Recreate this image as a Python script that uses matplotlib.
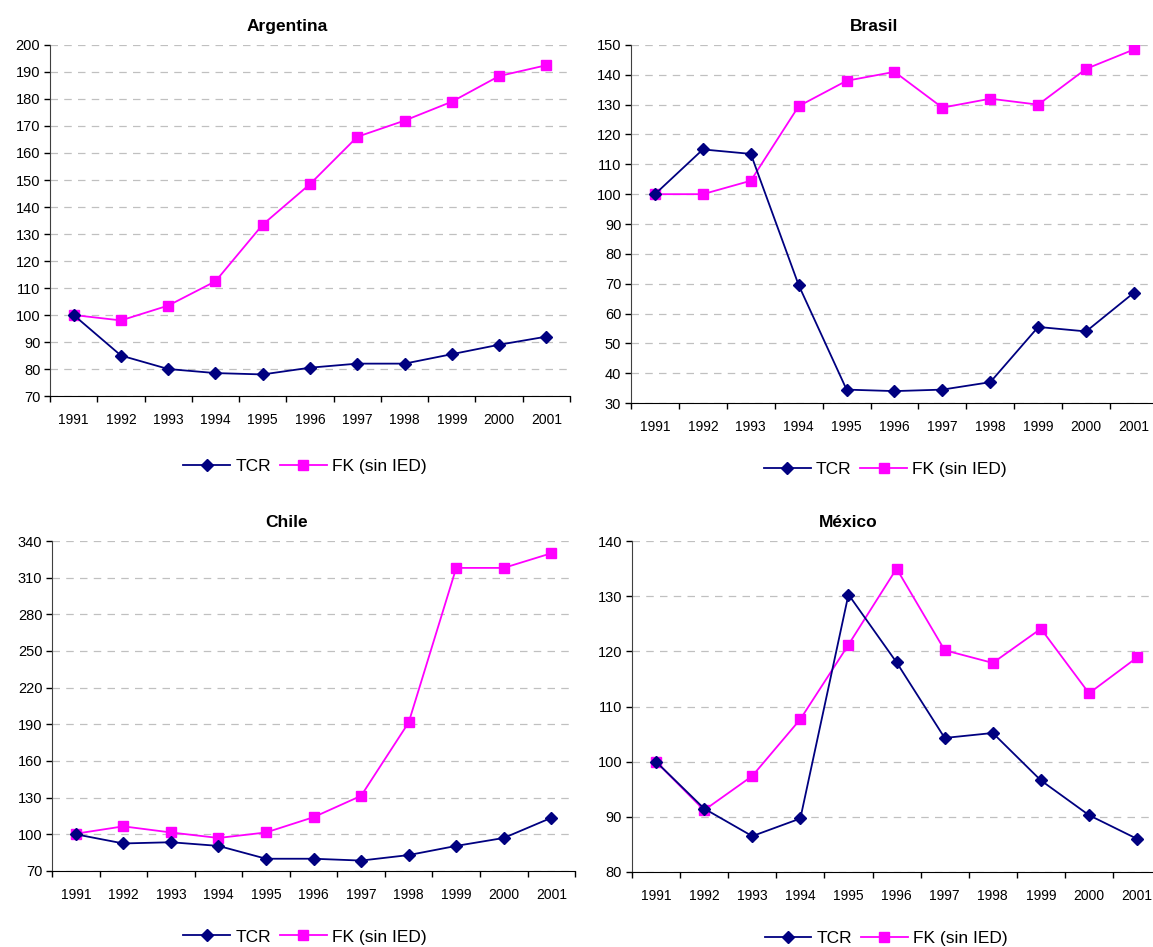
"""TCR vs FK (sin IED), 1991-2001, cuatro paneles por país."""

import matplotlib
matplotlib.use("Agg")
from matplotlib import pyplot as plt
from matplotlib.ticker import FixedLocator

plt.rcParams["font.family"] = ["Liberation Sans", "DejaVu Sans"]

years = ["1991", "1992", "1993", "1994", "1995", "1996",
         "1997", "1998", "1999", "2000", "2001"]

arg_tcr = [100, 85, 80, 78.5, 78, 80.5, 82, 82, 85.5, 89, 92]
arg_fk = [100, 98, 103.5, 112.5, 133.5, 148.5, 166, 172, 179, 188.5, 192.5]

bra_tcr = [100, 115, 113.5, 69.5, 34.5, 34, 34.5, 37, 55.5, 54, 67]
bra_fk = [100, 100, 104.5, 129.5, 138, 141, 129, 132, 130, 142, 148.5]

chi_tcr = [100, 92.5, 93.5, 90.5, 80, 80, 78.5, 83, 90.5, 97, 113.5]
chi_fk = [100.5, 106.5, 101.5, 97, 101.5, 114, 131.5, 191.5, 318, 318, 330]

mex_tcr = [100, 91.5, 86.5, 89.7, 130.3, 118, 104.3, 105.2, 96.6, 90.3, 86]
mex_fk = [100, 91.2, 97.4, 107.7, 121.2, 135, 120.2, 117.9, 124.1, 112.4, 118.9]

TCR_COLOR = "#000080"
FK_COLOR = "#FF00FF"

# (title, title x, tcr, fk, y-range, y-step, axes rect, legend anchor)
panels = [
    ("Argentina", 0.456, arg_tcr, arg_fk, (70, 200), 10,
     [0.0434, 0.5818, 0.4510, 0.3707], (0.2645, 0.507)),
    ("Brasil", 0.461, bra_tcr, bra_fk, (30, 150), 10,
     [0.5473, 0.5744, 0.4570, 0.3781], (0.7680, 0.504)),
    ("Chile", 0.449, chi_tcr, chi_fk, (70, 340), 30,
     [0.0451, 0.0803, 0.4537, 0.3484], (0.2645, 0.0106)),
    ("México", 0.408, mex_tcr, mex_fk, (80, 140), 10,
     [0.5481, 0.0792, 0.4590, 0.3495], (0.7685, 0.0095)),
]

fig = plt.figure(figsize=(11.53, 9.47), dpi=100)

for title, tx, tcr, fk, (ymin, ymax), step, rect, anchor in panels:
    ax = fig.add_axes(rect)
    x = list(range(len(years)))

    l1, = ax.plot(x, tcr, color=TCR_COLOR, lw=1.3, marker="D", ms=6.5,
                  markeredgecolor=TCR_COLOR, markerfacecolor=TCR_COLOR,
                  label="TCR", zorder=4)
    l2, = ax.plot(x, fk, color=FK_COLOR, lw=1.3, marker="s", ms=7.5,
                  markeredgecolor=FK_COLOR, markerfacecolor=FK_COLOR,
                  label="FK (sin IED)", zorder=3)

    ax.set_xlim(-0.5, len(years) - 0.5)
    ax.set_ylim(ymin, ymax)
    ax.set_yticks(range(ymin, ymax + 1, step))
    ax.set_xticks(x)
    ax.set_xticklabels(years)
    ax.xaxis.set_minor_locator(FixedLocator([i - 0.5 for i in range(len(years) + 1)]))
    ax.tick_params(axis="x", which="major", length=0, pad=12, labelsize=10)
    ax.tick_params(axis="x", which="minor", length=4, width=1, direction="out")
    ax.tick_params(axis="y", length=4, width=1, direction="out", labelsize=10.5, pad=3)

    ax.grid(axis="y", color="#c0c0c0", linestyle=(0, (6, 5)), lw=0.9)
    ax.set_axisbelow(True)
    for side in ("top", "right"):
        ax.spines[side].set_visible(False)
    ax.spines["left"].set_color("#404040")
    ax.spines["bottom"].set_color("black")

    ax.set_title(title, x=tx, fontsize=12.5, fontweight="bold", pad=10)

    fig.legend(handles=[l1, l2], loc="center", bbox_to_anchor=anchor,
               ncol=2, frameon=False, fontsize=12.5, handlelength=2.7,
               handletextpad=0.3, columnspacing=0.5)

fig.savefig("out.png", dpi=100)
